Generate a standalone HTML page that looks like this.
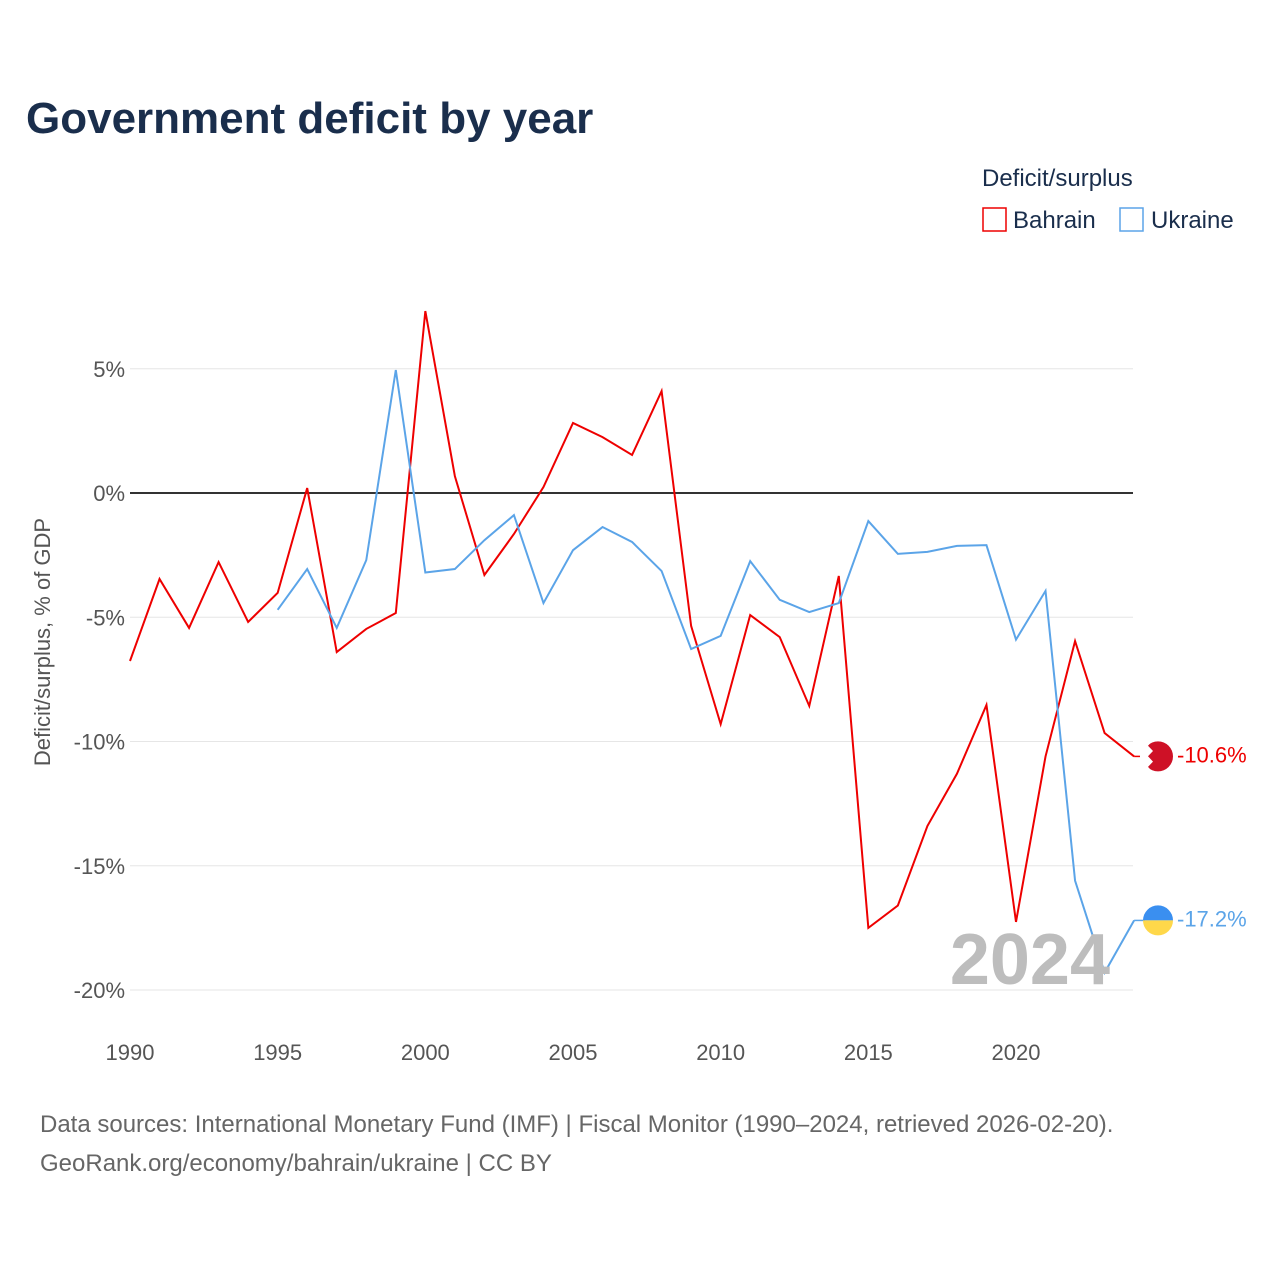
<!DOCTYPE html>
<html><head><meta charset="utf-8"><style>
body{margin:0;background:#fff;font-family:"Liberation Sans",sans-serif;}
#wrap{position:relative;width:1280px;height:1280px;}
</style></head><body>
<div id="wrap">
<svg id="chart" width="1280" height="1280" font-family="Liberation Sans, sans-serif">
<text x="26" y="133" font-size="44" font-weight="bold" fill="#1a2e4c">Government deficit by year</text>
<text x="982" y="186" font-size="24" fill="#1a2e4c">Deficit/surplus</text>
<g><rect x="983" y="208" width="23" height="23" fill="#fff" stroke="#ee0000" stroke-width="1.5"/><text x="1013" y="228" font-size="24" fill="#1a2e4c">Bahrain</text></g>
<g><rect x="1120" y="208" width="23" height="23" fill="#fff" stroke="#5ba4e8" stroke-width="1.5"/><text x="1151" y="228" font-size="24" fill="#1a2e4c">Ukraine</text></g>
<text transform="translate(50,642) rotate(-90)" text-anchor="middle" font-size="22" fill="#555">Deficit/surplus, % of GDP</text>
<g id="grid"></g><g id="series"></g>
<text x="1110" y="984" text-anchor="end" font-size="72" font-weight="bold" fill="#bdbdbd">2024</text>
<text x="40" y="1132" font-size="24" fill="#666">Data sources: International Monetary Fund (IMF) | Fiscal Monitor (1990–2024, retrieved 2026-02-20).</text>
<text x="40" y="1171" font-size="24" fill="#666">GeoRank.org/economy/bahrain/ukraine | CC BY</text>
</svg></div>
<script>
const years=[1990,1991,1992,1993,1994,1995,1996,1997,1998,1999,2000,2001,2002,2003,2004,2005,2006,2007,2008,2009,2010,2011,2012,2013,2014,2015,2016,2017,2018,2019,2020,2021,2022,2023,2024];
const bahrain=[-6.76,-3.46,-5.43,-2.78,-5.19,-4.02,0.2,-6.4,-5.47,-4.83,7.32,0.68,-3.3,-1.65,0.24,2.82,2.25,1.53,4.1,-5.35,-9.3,-4.91,-5.8,-8.57,-3.34,-17.5,-16.6,-13.4,-11.3,-8.53,-17.26,-10.6,-5.96,-9.66,-10.6];
const ukraine=[null,null,null,null,null,-4.7,-3.06,-5.43,-2.7,4.95,-3.2,-3.06,-1.9,-0.89,-4.43,-2.3,-1.37,-1.97,-3.14,-6.28,-5.75,-2.74,-4.3,-4.79,-4.43,-1.13,-2.45,-2.37,-2.13,-2.1,-5.9,-3.94,-15.6,-19.3,-17.2];
const yTicks=[5,0,-5,-10,-15,-20];
const yTickLabels=["5%","0%","-5%","-10%","-15%","-20%"];
const xTicks=[1990,1995,2000,2005,2010,2015,2020];
const NS="http://www.w3.org/2000/svg";
function xs(v){return 130+(v-1990)*886/30;}
function ys(v){return 493-v*24.85;}
const grid=document.getElementById('grid'),ser=document.getElementById('series');
function mk(tag,attrs,parent){const e=document.createElementNS(NS,tag);for(const k in attrs)e.setAttribute(k,attrs[k]);parent.appendChild(e);return e;}
yTicks.forEach((t,i)=>{
 const l=mk('line',{x1:130,x2:1133,y1:ys(t),y2:ys(t),stroke:t===0?'#333':'#e6e6e6','stroke-width':t===0?2:1},grid);
 
 
 const tx=mk('text',{x:125,y:ys(t)+8,'text-anchor':'end','font-size':22,fill:'#555'},grid);tx.textContent=yTickLabels[i];
 
 
});
xTicks.forEach(t=>{
 const tx=mk('text',{x:xs(t),y:1060,'text-anchor':'middle','font-size':22,fill:'#555'},grid);tx.textContent=t;
 
 
});
function line(vals,color,name){
 let d='';vals.forEach((v,i)=>{if(v===null)return;d+=(d?'L':'M')+xs(years[i])+','+ys(v);});
 const p=mk('path',{d:d,fill:'none',stroke:color,'stroke-width':2},ser);
 
 
 const last=vals[vals.length-1];const y=ys(last);
 mk('line',{x1:xs(2024),x2:1145,y1:y,y2:y,stroke:color,'stroke-width':1.5},ser);
 const t=mk('text',{x:1177,y:y+6,'font-size':22,fill:color},ser);t.textContent=last.toFixed(1)+'%';
 
 
 return y;
}
const yb=line(bahrain,'#ee0000','bahrain');
const yu=line(ukraine,'#5ba4e8','ukraine');
const fb=mk('g',{},ser);


mk('circle',{cx:1158,cy:yb,r:15,fill:'#ce1126'},fb);
mk('path',{d:`M1140,${yb-16}h13l-5,5.3l5,5.3l-5,5.3l5,5.3l-5,5.3l5,5.3h-13z`,fill:'#fff'},fb);
const fu=mk('g',{},ser);


mk('path',{d:`M1143,${yu}a15,15 0 0 1 30,0z`,fill:'#3a8ff0'},fu);
mk('path',{d:`M1143,${yu}a15,15 0 0 0 30,0z`,fill:'#ffd84a'},fu);
</script>
</body></html>
